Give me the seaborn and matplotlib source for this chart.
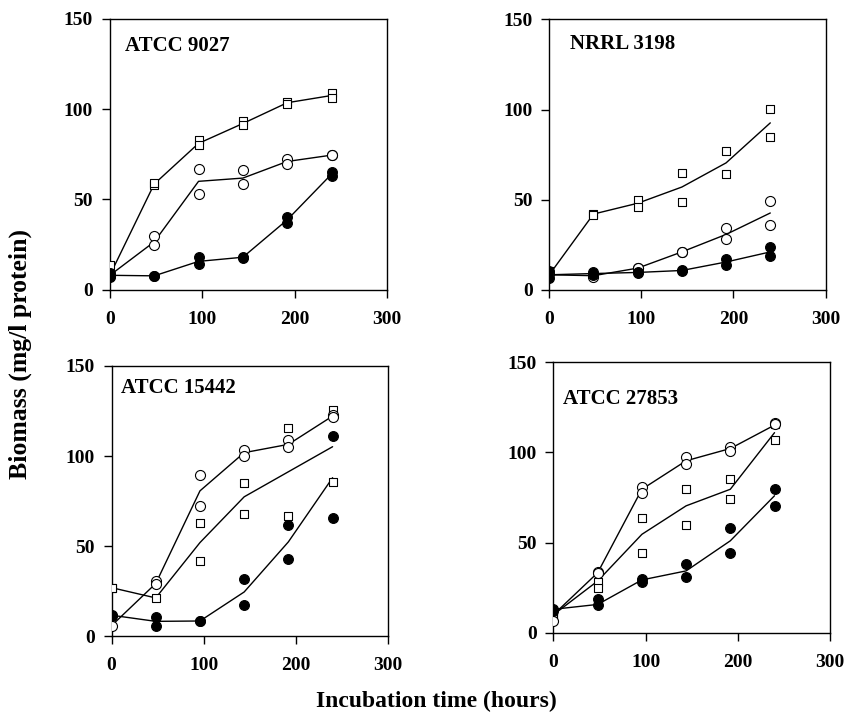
import numpy as np
import pandas as pd
import seaborn as sns
import matplotlib.pyplot as plt

# incubation times (hours)
times = [0, 48, 96, 144, 192, 240]

# replicate points (open squares, open circles, filled circles)
# and the fitted line through each series
strains = ["ATCC 9027", "NRRL 3198", "ATCC 15442", "ATCC 27853"]

sq_pts = [
    [[13.5], [58, 59], [82.6, 80], [93.5, 91], [104, 103], [109, 106]],
    [[10.2], [42, 41.5], [50, 46], [65, 48.7], [77, 64], [100.4, 84.8]],
    [[27, 27], [29.8, 21.3], [63, 42], [85.2, 68.1], [115.4, 66.7], [125.4, 85.4]],
    [[9, 11], [28.3, 24.6], [63.9, 44.1], [79.6, 59.8], [85.2, 74.1], [107, 116]],
]
oc_pts = [
    [[7.7], [29.7, 25], [66.6, 53], [66, 58.5], [72.5, 69.5], [74.5, 74.5]],
    [[8.5], [7], [12, 12], [21, 21], [34, 28], [49.4, 36]],
    [[5.9], [30.7, 29.3], [89.3, 72.4], [103.3, 100], [108.9, 105.2], [122.6, 121.9]],
    [[6.5], [33.7, 33], [80.6, 77.4], [97.6, 93.5], [103.3, 100.6], [116.3, 115.6]],
]
fc_pts = [
    [[9, 7], [7.7, 7.7], [18, 14], [18, 17.5], [40.4, 37], [65, 63]],
    [[10.5, 6.5], [10, 8], [10, 9.3], [10.7, 10.2], [17, 13.5], [24, 19]],
    [[11.7, 11], [10.6, 5.9], [8.5, 8.5], [31.7, 17.2], [61.9, 42.8], [111.3, 65.9]],
    [[13, 12], [18.9, 15.2], [29.6, 28.3], [38.3, 30.7], [58, 44], [80, 70.4]],
]

sq_line = [
    [8, 58.5, 81, 92, 103.5, 107.5],
    [8.3, 42, 48, 57, 70.4, 92.6],
    [27, 21.3, 52, 77.4, 91.3, 105.2],
    [10, 28.7, 54.6, 70.4, 79.6, 111],
]
oc_line = [
    [8, 26.5, 60, 61.8, 71, 74.5],
    [8.3, 7.8, 12, 21, 30.7, 42.6],
    [5.9, 29.3, 80.7, 101.9, 106.5, 122.2],
    [10, 33.3, 79.6, 95.4, 102.2, 115.2],
]
fc_line = [
    [8, 7.7, 15.7, 18, 38.7, 64],
    [8.3, 9, 9.6, 10.7, 15.4, 21],
    [11.7, 8.3, 8.5, 24.6, 52.4, 88],
    [13, 15.7, 29.3, 34.3, 51, 76],
]


def to_long(pts):
    rows = []
    for t, vals in zip(times, pts):
        for v in vals:
            rows.append({"time": t, "biomass": v})
    return pd.DataFrame(rows)


sns.set_style("ticks", {"text.color": "black", "axes.labelcolor": "black",
                        "xtick.color": "black", "ytick.color": "black",
                        "axes.edgecolor": "black"})
plt.rcParams["font.family"] = ["Liberation Serif", "DejaVu Serif"]
plt.rcParams["font.weight"] = "bold"

fig = plt.figure(figsize=(8.45, 7.19), dpi=100)

# axes boxes in figure fractions (left, bottom, width, height)
boxes = [
    [0.130, 0.597, 0.328, 0.377],
    [0.650, 0.597, 0.327, 0.376],
    [0.132, 0.115, 0.327, 0.376],
    [0.655, 0.120, 0.327, 0.376],
]
title_pos = [(0.054, 0.88), (0.075, 0.89), (0.036, 0.90), (0.036, 0.845)]

for i in range(4):
    ax = fig.add_axes(boxes[i])
    sns.lineplot(x=times, y=sq_line[i], color="black", lw=1, ax=ax)
    sns.lineplot(x=times, y=oc_line[i], color="black", lw=1, ax=ax)
    sns.lineplot(x=times, y=fc_line[i], color="black", lw=1, ax=ax)

    d = to_long(sq_pts[i])
    sns.scatterplot(data=d, x="time", y="biomass", marker="s", s=26,
                    color="white", edgecolor="black", linewidth=0.8, ax=ax, zorder=3)
    d = to_long(oc_pts[i])
    sns.scatterplot(data=d, x="time", y="biomass", marker="o", s=52,
                    color="white", edgecolor="black", linewidth=0.8, ax=ax, zorder=3)
    d = to_long(fc_pts[i])
    sns.scatterplot(data=d, x="time", y="biomass", marker="o", s=50,
                    color="black", edgecolor="black", linewidth=0.8, ax=ax, zorder=4)

    ax.set_xlim(0, 300)
    ax.set_ylim(0, 150)
    ax.set_xticks([0, 100, 200, 300])
    ax.set_yticks([0, 50, 100, 150])
    ax.set_xlabel("")
    ax.set_ylabel("")
    ax.tick_params(axis="x", direction="out", length=6, width=1, pad=9, labelsize=14,
                   colors="black")
    ax.tick_params(axis="y", direction="out", length=6, width=1, pad=6, labelsize=14,
                   colors="black")
    for lab in ax.get_xticklabels() + ax.get_yticklabels():
        lab.set_fontweight("bold")
    for sp in ax.spines.values():
        sp.set_linewidth(1)
        sp.set_color("black")
    ax.text(title_pos[i][0], title_pos[i][1], strains[i], transform=ax.transAxes,
            fontsize=15, fontweight="bold", va="baseline", ha="left", color="black")

fig.text(0.024, 0.508, "Biomass (mg/l protein)", rotation=90, va="center", ha="center",
         fontsize=18.5, fontweight="bold", color="black")
fig.text(0.517, 0.024, "Incubation time (hours)", va="center", ha="center",
         fontsize=17, fontweight="bold", color="black")

plt.savefig("out.png", dpi=100)
